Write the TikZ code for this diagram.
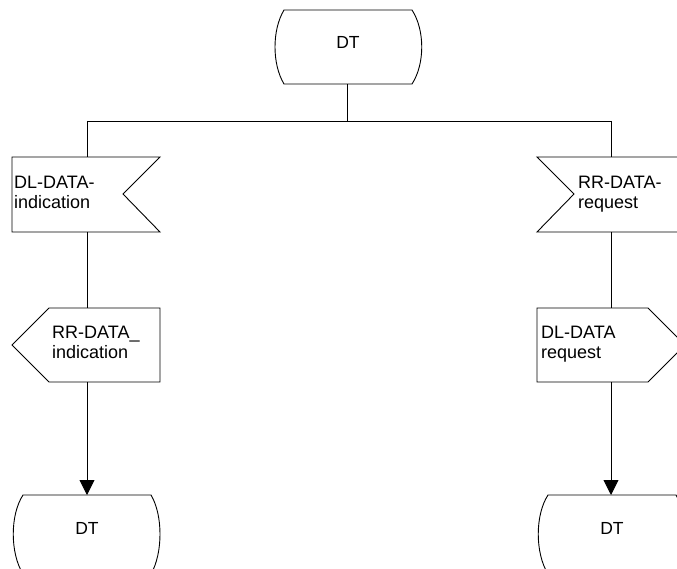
\documentclass[tikz,border=0pt]{standalone}
\usepackage{fontspec}
\setmainfont{Liberation Sans}
\usetikzlibrary{arrows.meta}
\begin{document}
\begin{tikzpicture}[x=1pt,y=-1pt,
  ln/.style={line width=0.9pt, draw=black},
  lbl/.style={anchor=north west, inner sep=0pt, align=left, font=\fontsize{18}{19.5}\selectfont},
  statelbl/.style={inner sep=0pt, font=\fontsize{17.5}{19}\selectfont},
  arr/.style={ln, -{Triangle[length=15pt,width=15pt]}}]
\useasboundingbox (0,0) rectangle (677,569);
% top state
\draw[ln] (284,10) -- (412,10) .. controls (425,30) and (425,64) .. (412,84)
  -- (284,84) .. controls (272,64) and (272,30) .. (284,10) -- cycle;
\node[statelbl] (dt0) at (348,42) {DT};
\coordinate (s0b) at (347,84);
\coordinate (jn) at (347,121);
\coordinate (jl) at (87,121);
\coordinate (jr) at (611,121);
% left input signal
\draw[ln] (12,157) -- (160,157) -- (123,194) -- (160,232) -- (12,232) -- cycle;
\node[lbl] (in1) at (14,176) {DL-DATA-\\indication};
\coordinate (in1t) at (87,157);
\coordinate (in1b) at (87,232);
% right input signal
\draw[ln] (537,157) -- (690,157) -- (690,232) -- (537,232) -- (574,194) -- cycle;
\node[lbl] (in2) at (578,176) {RR-DATA-\\request};
\coordinate (in2t) at (611,157);
\coordinate (in2b) at (611,232);
% left output signal
\draw[ln] (49,308) -- (160,308) -- (160,382) -- (49,382) -- (12,345) -- cycle;
\node[lbl] (out1) at (52,326) {RR-DATA\_\\indication};
\coordinate (out1t) at (87,308);
\coordinate (out1b) at (87,382);
% right output signal
\draw[ln] (537,308) -- (648,308) -- (685,345) -- (648,382) -- (537,382) -- cycle;
\node[lbl] (out2) at (541,326) {DL-DATA\\request};
\coordinate (out2t) at (611,308);
\coordinate (out2b) at (611,382);
% bottom states
\draw[ln] (23,495) -- (151,495) .. controls (163,515) and (163,553) .. (151,574)
  -- (23,574) .. controls (10,553) and (10,515) .. (23,495) -- cycle;
\node[statelbl] (dt1) at (87,528) {DT};
\coordinate (s1t) at (87,495);
\draw[ln] (548,495) -- (676,495) .. controls (688,515) and (688,553) .. (676,574)
  -- (548,574) .. controls (535,553) and (535,515) .. (548,495) -- cycle;
\node[statelbl] (dt2) at (612,528) {DT};
\coordinate (s2t) at (611,495);
% connectors
\draw[ln] (s0b) -- (jn);
\draw[ln] (jl) -- (jr);
\draw[ln] (jl) -- (in1t);
\draw[ln] (jr) -- (in2t);
\draw[ln] (in1b) -- (out1t);
\draw[ln] (in2b) -- (out2t);
\draw[arr] (out1b) -- (s1t);
\draw[arr] (out2b) -- (s2t);
\end{tikzpicture}
\end{document}
